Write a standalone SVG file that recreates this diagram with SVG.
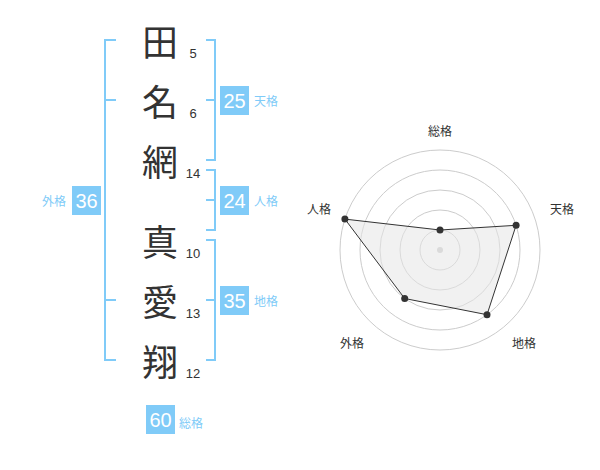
<svg xmlns="http://www.w3.org/2000/svg" width="600" height="470" viewBox="0 0 600 470">
<style>
.kanji{font-family:"Noto Sans CJK JP","Noto Sans CJK SC",sans-serif;font-size:36px;fill:#333;text-anchor:middle;dominant-baseline:central}
.num{font-family:"Liberation Sans",Arial,sans-serif;font-size:13px;fill:#333;text-anchor:middle}
.br{fill:none;stroke:#80cbf8;stroke-width:2}
.box{fill:#80cbf8}
.bn{font-family:"Liberation Sans",Arial,sans-serif;font-size:20px;fill:#fff;text-anchor:middle}
.bl{font-family:"Noto Sans CJK JP","Noto Sans CJK SC",sans-serif;font-size:12px;fill:#80cbf8;dominant-baseline:central}
.ring{fill:none;stroke:#ccc;stroke-width:1}
.rl{font-family:"Noto Sans CJK JP","Noto Sans CJK SC",sans-serif;font-size:12px;fill:#333;text-anchor:middle;dominant-baseline:central}
.dot{fill:#333}
</style>
<rect width="600" height="470" fill="#fff"/>
<g id="name">
<text class="kanji" x="160" y="40">田</text>
<text class="kanji" x="160" y="100">名</text>
<text class="kanji" x="160" y="160">網</text>
<text class="kanji" x="160" y="240">真</text>
<text class="kanji" x="160" y="300">愛</text>
<text class="kanji" x="160" y="360">翔</text>
</g>
<g id="strokes">
<text class="num" x="193" y="57.5">5</text>
<text class="num" x="193" y="117.5">6</text>
<text class="num" x="193" y="177.5">14</text>
<text class="num" x="193" y="257.5">10</text>
<text class="num" x="193" y="317.5">13</text>
<text class="num" x="193" y="377.5">12</text>
</g>
<g id="connectors">
<path class="br" d="M206 40H215V160H206M206 100H215"/>
<path class="br" d="M206 170H215V230H206M206 200H215"/>
<path class="br" d="M206 240H215V360H206M206 300H215"/>
<path class="br" d="M116 40H105V360H116M116 100H105M116 300H105"/>
</g>
<g id="tenkaku">
<rect class="box" x="220" y="86" width="29" height="29"/>
<text class="bn" x="234.5" y="107.7">25</text>
<text class="bl" x="254" y="100.5">天格</text>
</g>
<g id="jinkaku">
<rect class="box" x="220" y="186" width="29" height="29"/>
<text class="bn" x="234.5" y="207.7">24</text>
<text class="bl" x="254" y="200.5">人格</text>
</g>
<g id="chikaku">
<rect class="box" x="220" y="286" width="29" height="29"/>
<text class="bn" x="234.5" y="307.7">35</text>
<text class="bl" x="254" y="300.5">地格</text>
</g>
<g id="gaikaku">
<rect class="box" x="72" y="186" width="29" height="29"/>
<text class="bn" x="86.5" y="207.7">36</text>
<text class="bl" x="66" y="200.5" text-anchor="end">外格</text>
</g>
<g id="soukaku">
<rect class="box" x="146" y="405" width="29" height="29"/>
<text class="bn" x="160.5" y="426.7">60</text>
<text class="bl" x="179" y="422.5">総格</text>
</g>
<g id="radar">
<circle class="ring" cx="440" cy="250" r="20"/>
<circle class="ring" cx="440" cy="250" r="40"/>
<circle class="ring" cx="440" cy="250" r="60"/>
<circle class="ring" cx="440" cy="250" r="80"/>
<circle class="ring" cx="440" cy="250" r="100"/>
<circle cx="440" cy="250" r="3" fill="#ccc"/>
<polygon points="440,230 516.1,225.3 487,314.7 404.7,298.5 344.9,219.1" fill="#e6e6e6" fill-opacity="0.55" stroke="#333" stroke-width="1"/>
<circle class="dot" cx="440" cy="230" r="3.5"/>
<circle class="dot" cx="516.1" cy="225.3" r="3.5"/>
<circle class="dot" cx="487" cy="314.7" r="3.5"/>
<circle class="dot" cx="404.7" cy="298.5" r="3.5"/>
<circle class="dot" cx="344.9" cy="219.1" r="3.5"/>
<text class="rl" x="440" y="130.5">総格</text>
<text class="rl" x="562" y="208">天格</text>
<text class="rl" x="319" y="208.5">人格</text>
<text class="rl" x="352" y="342">外格</text>
<text class="rl" x="524" y="342">地格</text>
</g>
</svg>
